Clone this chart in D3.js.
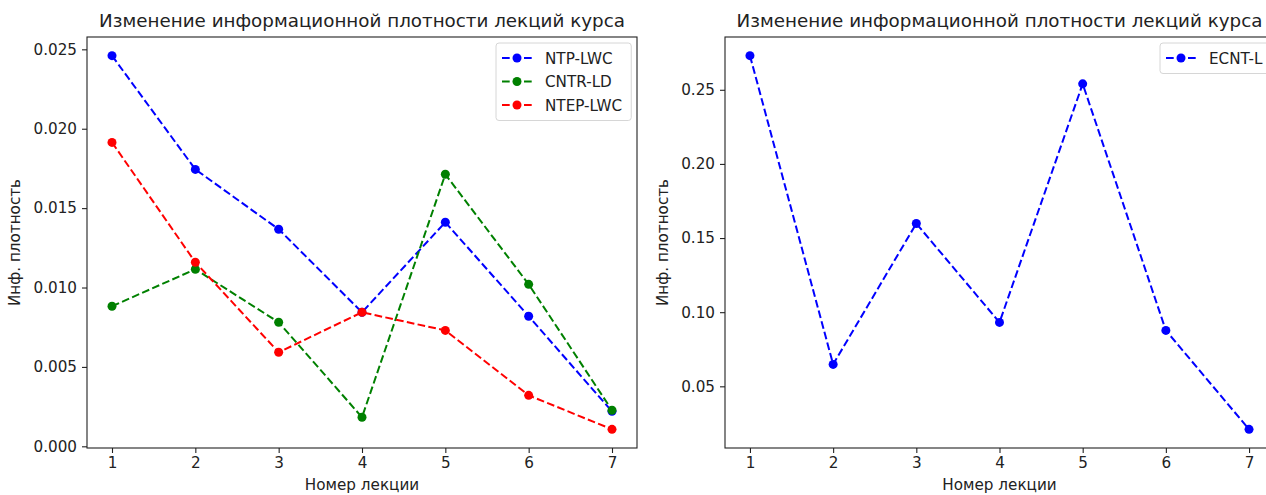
<!DOCTYPE html>
<html>
<head>
<meta charset="utf-8">
<script src="https://cdn.jsdelivr.net/npm/d3@7"></script>
<style>
  body { margin: 0; background: #fff; }
  svg { display: block; font-family: "DejaVu Sans", sans-serif; }
  .tick text { font-size: 15.2px; fill: #222; font-family: "DejaVu Sans", sans-serif; }
</style>
</head>
<body>
<svg id="chart" width="1266" height="495"></svg>
<script>
// lecture numbers
let lectures = [1, 2, 3, 4, 5, 6, 7];

// left chart series
let ntpLwc  = [0.0246, 0.01744, 0.01367, 0.00844, 0.01411, 0.00819, 0.0022];
let cntrLd  = [0.00882, 0.01115, 0.00781, 0.00183, 0.01713, 0.0102, 0.00227];
let ntepLwc = [0.01914, 0.01159, 0.00592, 0.00844, 0.0073, 0.00321, 0.00107];

// right chart series
let ecntL = [0.273, 0.0648, 0.1598, 0.0931, 0.254, 0.0877, 0.021];

let leftTicks  = [0.000, 0.005, 0.010, 0.015, 0.020, 0.025];
let rightTicks = [0.05, 0.10, 0.15, 0.20, 0.25];

let titleText = "Изменение информационной плотности лекций курса";
let xLabel = "Номер лекции";
let yLabel = "Инф. плотность";

let chart = d3.select("#chart");

function padded(values){
    let ext = d3.extent(values);
    let m = (ext[1] - ext[0]) * 0.05;
    return [ext[0] - m, ext[1] + m];
}

function draw_panel(left, right, series, yTicks, yFormat, legendX, ylabelX){
    let top = 37, bottom = 448;
    let all = [].concat(...series.map(s => s.values));

    let xScale = d3.scaleLinear().domain(padded(lectures)).range([left, right]);
    let yScale = d3.scaleLinear().domain(padded(all)).range([bottom, top]);

    let g = chart.append("g");

    // frame
    g.append("rect")
        .attr("x", left).attr("y", top)
        .attr("width", right - left).attr("height", bottom - top)
        .attr("fill", "none").attr("stroke", "#222").attr("stroke-width", 1.1);

    let xAxis = g.append("g")
        .attr("transform", "translate(0," + bottom + ")")
        .call(d3.axisBottom(xScale).tickValues(lectures).tickFormat(d3.format("d"))
              .tickSize(5).tickPadding(4));
    let yAxis = g.append("g")
        .attr("transform", "translate(" + left + ",0)")
        .call(d3.axisLeft(yScale).tickValues(yTicks).tickFormat(d3.format(yFormat))
              .tickSize(5).tickPadding(5));
    [xAxis, yAxis].forEach(a => {
        a.select(".domain").remove();
        a.selectAll(".tick line").attr("stroke", "#222").attr("stroke-width", 1.1);
    });

    let line = d3.line().x((d, i) => xScale(lectures[i])).y(d => yScale(d));

    series.forEach(s => {
        g.append("path")
            .attr("d", line(s.values))
            .attr("fill", "none")
            .attr("stroke", s.color)
            .attr("stroke-width", 2)
            .attr("stroke-dasharray", "7.7,3.3");
        g.selectAll(null)
            .data(s.values).enter()
            .append("circle")
                .attr("cx", (d, i) => xScale(lectures[i]))
                .attr("cy", d => yScale(d))
                .attr("r", 4.5)
                .attr("fill", s.color);
    });

    // title and axis labels
    g.append("text")
        .text(titleText)
        .attr("x", (left + right) / 2).attr("y", 27)
        .style("text-anchor", "middle")
        .style("font-size", "18.3px")
        .style("fill", "#222");
    g.append("text")
        .text(xLabel)
        .attr("x", (left + right) / 2).attr("y", 490)
        .style("text-anchor", "middle")
        .style("font-size", "15.2px")
        .style("fill", "#222");
    g.append("text")
        .text(yLabel)
        .attr("transform", "translate(" + ylabelX + "," + (top + bottom) / 2 + ") rotate(-90)")
        .style("text-anchor", "middle")
        .style("font-size", "15.2px")
        .style("fill", "#222");

    // legend
    let rowH = 23.5;
    let leg = g.append("g").attr("transform", "translate(" + legendX + ",43)");
    let box = leg.append("rect")
        .attr("height", series.length * rowH + 7)
        .attr("rx", 3)
        .attr("fill", "#fff").attr("fill-opacity", 0.8)
        .attr("stroke", "#d6d6d6");
    let maxW = 0;
    series.forEach((s, i) => {
        let yy = 15 + i * rowH;
        leg.append("line")
            .attr("x1", 6).attr("x2", 36).attr("y1", yy).attr("y2", yy)
            .attr("stroke", s.color).attr("stroke-width", 2)
            .attr("stroke-dasharray", "7.7,3.3");
        leg.append("circle")
            .attr("cx", 21).attr("cy", yy).attr("r", 4.5).attr("fill", s.color);
        let t = leg.append("text")
            .text(s.name)
            .attr("x", 49).attr("y", yy + 5.5)
            .style("font-size", "15.2px")
            .style("fill", "#222");
        maxW = Math.max(maxW, t.node().getComputedTextLength());
    });
    box.attr("width", 49 + maxW + 9);
}

draw_panel(87, 637, [
    {name: "NTP-LWC", values: ntpLwc, color: "#0000ff"},
    {name: "CNTR-LD", values: cntrLd, color: "#008000"},
    {name: "NTEP-LWC", values: ntepLwc, color: "#ff0000"}
], leftTicks, ".3f", 496, 20);

draw_panel(725, 1274, [
    {name: "ECNT-L", values: ecntL, color: "#0000ff"}
], rightTicks, ".2f", 1160, 668);
</script>
</body>
</html>
